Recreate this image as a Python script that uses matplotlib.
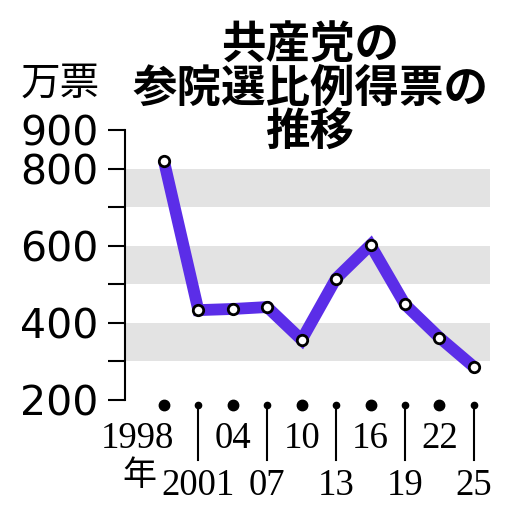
import matplotlib
matplotlib.use("Agg")
import matplotlib.pyplot as plt

# data: 共産党の参院選比例得票 (万票)
years = ["1998", "2001", "04", "07", "10", "13", "16", "19", "22", "25"]
votes = [820, 433, 436, 441, 356, 515, 602, 448, 362, 286]
yticks_major = [200, 400, 600, 800, 900]
yticks_minor = [300, 500, 700]
bands = [(300, 400), (500, 600), (700, 800)]

cjk = ["Noto Sans CJK JP", "DejaVu Sans"]
line_color = "#5b2de8"

fig = plt.figure(figsize=(5.12, 5.12), dpi=100)
ax = fig.add_axes([125 / 512, 1 - 400 / 512, 365 / 512, 270 / 512])

x = list(range(len(years)))

# gray bands
for lo, hi in bands:
    ax.axhspan(lo, hi, color="#e3e3e3", lw=0, zorder=0)

# main line with hollow markers
ax.plot(x, votes, color=line_color, lw=8.5, solid_joinstyle="miter",
        solid_capstyle="butt", zorder=2)
ax.plot(x, votes, ls="none", marker="o", ms=7.5, mfc="white", mec="black",
        mew=2.0, zorder=3)

ax.set_xlim(-1.13, 9.47)
ax.set_ylim(200, 900)

# axes styling
for s in ["top", "right", "bottom"]:
    ax.spines[s].set_visible(False)
ax.spines["left"].set_linewidth(1.5)
ax.set_xticks([])
ax.set_yticks(yticks_major)
ax.set_yticks(yticks_minor, minor=True)
ax.tick_params(axis="y", which="both", direction="out", length=12, width=1.5, pad=7)
ax.tick_params(axis="y", which="major", labelsize=29.5)
for lab in ax.get_yticklabels():
    lab.set_family("DejaVu Sans")

# x-axis markers and labels below the plot
tr = ax.get_xaxis_transform()
xfont = dict(family="Liberation Serif", fontsize=26.5)
for i, yr in enumerate(years):
    if i % 2 == 0:
        ax.plot([i], [-0.0185], marker="o", ms=7.5, color="black",
                transform=tr, clip_on=False)
        if i == 0:
            ax.annotate(yr, (i, -0.178), xycoords=tr, xytext=(7, 0),
                        textcoords="offset points", ha="right", va="baseline",
                        **xfont)
        else:
            ax.text(i, -0.178, yr, transform=tr, ha="center", va="baseline",
                    **xfont)
    else:
        ax.plot([i], [-0.0185], marker="o", ms=4.5, color="black",
                transform=tr, clip_on=False)
        ax.plot([i, i], [-0.0185, -0.222], color="black", lw=1.5,
                transform=tr, clip_on=False)
        ax.text(i, -0.352, yr, transform=tr, ha="center", va="baseline",
                **xfont)

ax.text(-0.72, -0.278, "年", transform=tr, ha="center", va="center",
        family=cjk, fontsize=24.5)

# unit label and title
fig.text(60 / 512, 1 - 84 / 512, "万票", ha="center", va="center",
         family=cjk, fontsize=28.5)
fig.text(310 / 512, 1 - 89 / 512, "共産党の\n参院選比例得票の\n推移",
         ha="center", va="center", family=cjk, fontsize=32,
         fontweight="bold", linespacing=0.93)

fig.savefig("out.png", dpi=100)
